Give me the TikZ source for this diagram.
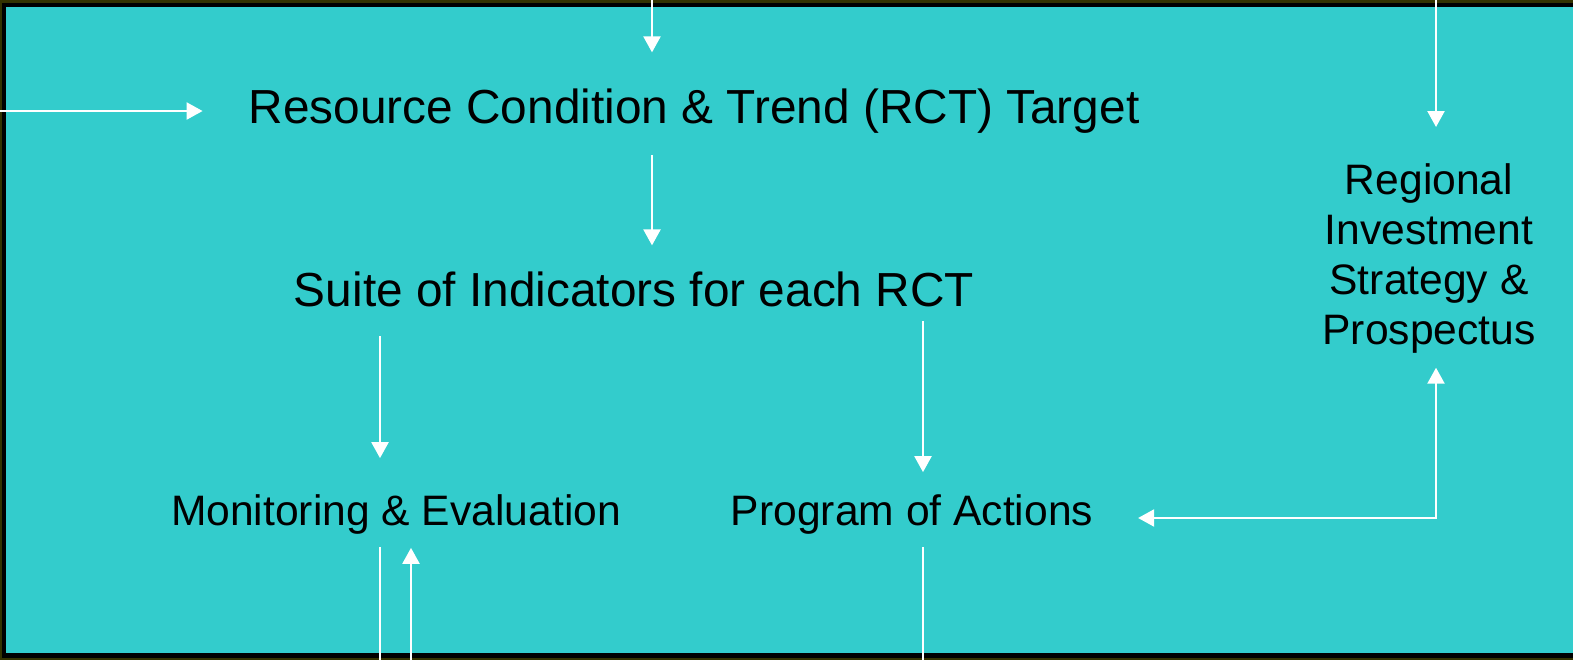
\documentclass[tikz,border=0pt]{standalone}
\usepackage{fontspec}
\setmainfont{Liberation Sans}
\usepackage{tikz}
\usetikzlibrary{arrows.meta,calc}
\definecolor{slide}{HTML}{33CCCC}
\definecolor{olive}{HTML}{333300}

\begin{document}
\begin{tikzpicture}[
  x=0.5pt, y=-0.5pt,
  bigtxt/.style={
    inner sep=0pt,
    outer sep=0pt,
    anchor=base,
    font=\fontsize{23.9}{28}\selectfont
  },
  smalltxt/.style={
    inner sep=0pt,
    outer sep=0pt,
    anchor=base,
    font=\fontsize{21.3}{25}\selectfont
  },
  link/.style={
    white,
    line width=1.15pt
  },
  arr/.style={
    link,
    -{Triangle[length=8pt,width=8.5pt]}
  }
]
\useasboundingbox (0,0) rectangle (1573,660);
\fill[olive] (0,0) rectangle (1573,660);
\fill[black] (2,3) rectangle (1573,658);
\fill[slide] (6,7) rectangle (1573,653);

\node[bigtxt] (rct) at (694,123) {Resource Condition \& Trend (RCT) Target};
\node[bigtxt] (suite) at (634,306) {Suite of Indicators for each RCT};
\node[smalltxt] (me) at (396,525) {Monitoring \& Evaluation};
\node[smalltxt] (poa) at (912,525) {Program of Actions};
\node[smalltxt, anchor=north, align=center] (ris) at (1429,164)
  {Regional\\Investment\\Strategy \&\\Prospectus};

\coordinate (intop) at (652,0);
\coordinate (inleft) at (0,111);
\coordinate (intopr) at (1436,0);
\coordinate (mebot) at (380,660);
\coordinate (mebotr) at (411,660);
\coordinate (poabot) at (923,660);

\draw[arr, shorten >=18pt] (intop) -- (intop |- rct.north);
\draw[arr, shorten >=23pt] (inleft) -- (inleft -| rct.west);
\draw[arr, shorten >=18.5pt] (intopr) -- (intopr |- ris.north);
\draw[arr, shorten <=11pt, shorten >=13pt] (rct.south -| intop) -- (suite.north -| intop);
\draw[arr, shorten <=15pt, shorten >=18pt] (suite.south -| mebot) -- (me.north -| mebot);
\draw[arr, shorten <=7.5pt, shorten >=11pt] (suite.south -| poabot) -- (poa.north -| poabot);
\draw[link, {Triangle[length=8pt,width=8.5pt]}-{Triangle[length=8pt,width=8.5pt]},
  shorten <=22.5pt, shorten >=7pt]
  ([yshift=-2pt]poa.east) -- ([yshift=-2pt]poa.east -| intopr) -- (intopr |- ris.south);
\draw[link, shorten <=6.5pt] (me.south -| mebot) -- (mebot);
\draw[arr, shorten >=7pt] (mebotr) -- (me.south -| mebotr);
\draw[link, shorten <=6.5pt] (poa.south -| poabot) -- (poabot);
\end{tikzpicture}
\end{document}
